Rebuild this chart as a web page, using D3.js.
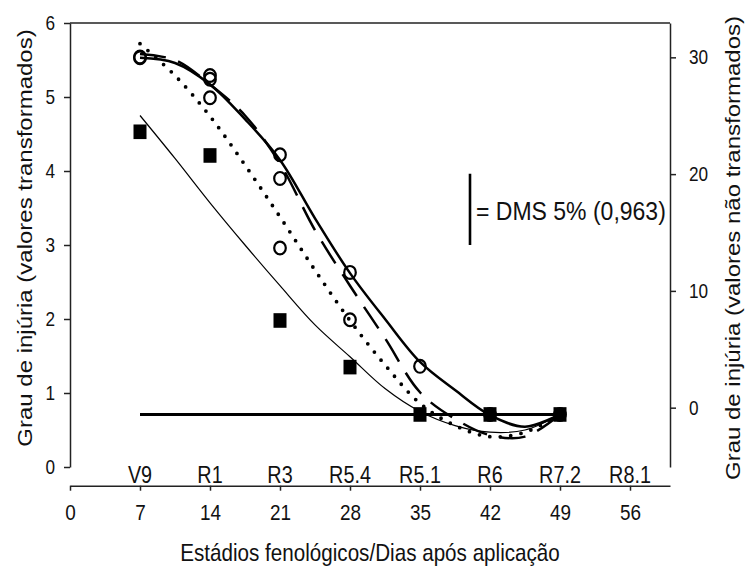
<!DOCTYPE html>
<html>
<head>
<meta charset="utf-8">
<script src="https://cdn.jsdelivr.net/npm/d3@7"></script>
<style>
  html, body { margin: 0; padding: 0; background: #fff; }
  svg text { font-family: "Liberation Sans", Arial, Helvetica, sans-serif; fill: #111; }
</style>
</head>
<body>
<svg id="chart" width="746" height="566"></svg>
<script>
// ---------------- data ----------------
const xTicks = [0, 7, 14, 21, 28, 35, 42, 49, 56];
const stageDays = [7, 14, 21, 28, 35, 42, 49, 56];
const stageLabels = ["V9", "R1", "R3", "R5.4", "R5.1", "R6", "R7.2", "R8.1"];
const yLeftTicks = [0, 1, 2, 3, 4, 5, 6];
const yRightTicks = [0, 10, 20, 30];

// observed means (transformed scale)
const squareDays = [7, 14, 21, 28, 35, 42, 49];
const squareValues = [4.53, 4.21, 1.98, 1.35, 0.71, 0.71, 0.71];

const circleDays = [7, 7, 14, 14, 14, 21, 21, 21, 28, 28, 35, 42, 49];
const circleValues = [5.53, 5.54, 5.29, 5.24, 4.99, 4.22, 3.90, 2.96, 2.63, 1.99, 1.36, 0.71, 0.71];

// fitted curves
const curveDays = [7, 10.5, 14, 17.5, 21, 24.5, 28, 31.5, 35, 38.5, 42, 45.5, 49];
const thinCurve   = [4.75, 4.17, 3.57, 3.00, 2.45, 1.92, 1.49, 1.06, 0.75, 0.56, 0.47, 0.50, 0.71];
const thickCurve  = [5.53, 5.46, 5.17, 4.70, 4.15, 3.36, 2.62, 2.00, 1.42, 1.04, 0.70, 0.545, 0.71];
const dashedCurve = [5.58, 5.50, 5.17, 4.75, 4.10, 3.20, 2.45, 1.74, 1.01, 0.65, 0.43, 0.41, 0.71];
const dottedCurve = [5.72, 5.29, 4.74, 4.08, 3.38, 2.66, 1.98, 1.38, 0.86, 0.56, 0.41, 0.47, 0.71];

// zero line (transformed 0) across the period
const zeroDays = [7, 49];
const zeroValues = [0.71, 0.71];

// DMS bar
const dmsDay = 40;
const dmsBase = 3.0;
const dmsValue = 0.963;
const dmsLabel = "= DMS 5% (0,963)";

// ---------------- layout ----------------
const SX = 0.86; // horizontal glyph compression
const svg = d3.select("#chart");
const x = d3.scaleLinear().domain([0, 60]).range([70, 670]);
const yL = d3.scaleLinear().domain([0, 6]).range([467, 23]);
const yR = d3.scaleLinear().domain([-5.08, 32.94]).range([467, 23]);
const xAxisY = 485.7;
const axisColor = "#222";

// top border
svg.append("line")
  .attr("x1", x(0)).attr("x2", x(60))
  .attr("y1", yL(6)).attr("y2", yL(6))
  .attr("stroke", axisColor).attr("stroke-width", 1.5);

// left axis
const gL = svg.append("g").attr("transform", `translate(${x(0)},0)`)
  .call(d3.axisLeft(yL).tickValues(yLeftTicks).tickSize(6).tickSizeOuter(0).tickFormat(d3.format("d")));
gL.selectAll("text").attr("x", -15 / SX).attr("transform", `scale(${SX},1)`)
  .style("font-size", "20px");

// right axis
const gR = svg.append("g").attr("transform", `translate(${x(60)},0)`)
  .call(d3.axisRight(yR).tickValues(yRightTicks).tickSize(6).tickSizeOuter(0).tickFormat(d3.format("d")));
gR.selectAll("text").attr("x", 19 / SX).attr("transform", `scale(${SX},1)`)
  .style("font-size", "20px");

// bottom axis
const gB = svg.append("g").attr("transform", `translate(0,${xAxisY})`)
  .call(d3.axisBottom(x).tickValues(xTicks).tickSize(5).tickPadding(14).tickSizeOuter(0).tickFormat(d3.format("d")));
gB.selectAll("text").attr("transform", `scale(${SX},1)`)
  .attr("x", 0).style("font-size", "22px");

[gL, gR, gB].forEach(g => {
  g.select(".domain").attr("stroke", axisColor).attr("stroke-width", 1.5);
  g.selectAll(".tick line").attr("stroke", axisColor).attr("stroke-width", 1.5);
  g.selectAll("text").style("fill", "#111");
});

// stage labels
svg.append("g").selectAll("text").data(stageDays).join("text")
  .attr("transform", d => `translate(${x(d)},483) scale(${SX},1)`)
  .attr("text-anchor", "middle")
  .style("font-size", "23px")
  .text((d, i) => stageLabels[i]);

// axis titles
svg.append("text")
  .attr("transform", `translate(${x(30)},561) scale(${SX},1)`)
  .attr("text-anchor", "middle").style("font-size", "24px")
  .text("Estádios fenológicos/Dias após aplicação");

svg.append("text")
  .attr("transform", `translate(32,238) rotate(-90) scale(1,${SX})`)
  .attr("text-anchor", "middle").style("font-size", "24px")
  .text("Grau de injúria (valores transformados)");

svg.append("text")
  .attr("transform", `translate(740,248) rotate(-90) scale(1,${SX})`)
  .attr("text-anchor", "middle").style("font-size", "24px")
  .text("Grau de injúria (valores não transformados)");

// zero line
svg.append("line")
  .attr("x1", x(zeroDays[0])).attr("x2", x(zeroDays[1]))
  .attr("y1", yL(zeroValues[0])).attr("y2", yL(zeroValues[1]))
  .attr("stroke", "#000").attr("stroke-width", 3);

// curves
const lineGen = vals => d3.line()
  .x((d, i) => x(curveDays[i]))
  .y(d => yL(d))
  .curve(d3.curveCatmullRom.alpha(0.5))(vals);

svg.append("path").attr("d", lineGen(thinCurve))
  .attr("fill", "none").attr("stroke", "#000").attr("stroke-width", 1.2);
svg.append("path").attr("d", lineGen(thickCurve))
  .attr("fill", "none").attr("stroke", "#000").attr("stroke-width", 2.5);
svg.append("path").attr("d", lineGen(dashedCurve))
  .attr("fill", "none").attr("stroke", "#000").attr("stroke-width", 2.5)
  .attr("stroke-dasharray", "26,13");
svg.append("path").attr("d", lineGen(dottedCurve))
  .attr("fill", "none").attr("stroke", "#000").attr("stroke-width", 3.8)
  .attr("stroke-linecap", "round").attr("stroke-dasharray", "0,10.5");

// circles (open)
svg.append("g").selectAll("ellipse").data(circleValues).join("ellipse")
  .attr("cx", (d, i) => x(circleDays[i]))
  .attr("cy", d => yL(d))
  .attr("rx", 5.8).attr("ry", 6.4)
  .attr("fill", "none").attr("stroke", "#000").attr("stroke-width", 2.2);

// squares (filled)
svg.append("g").selectAll("rect").data(squareValues).join("rect")
  .attr("x", (d, i) => x(squareDays[i]) - 6.5)
  .attr("y", d => yL(d) - 7.3)
  .attr("width", 13).attr("height", 14.6)
  .attr("fill", "#000");

// DMS bar + label
svg.append("line")
  .attr("x1", x(dmsDay)).attr("x2", x(dmsDay))
  .attr("y1", yL(dmsBase)).attr("y2", yL(dmsBase + dmsValue))
  .attr("stroke", "#000").attr("stroke-width", 2.6);
svg.append("text")
  .attr("transform", `translate(${x(dmsDay) + 6},220) scale(0.92,1)`)
  .style("font-size", "25px")
  .text(dmsLabel);
</script>
</body>
</html>
